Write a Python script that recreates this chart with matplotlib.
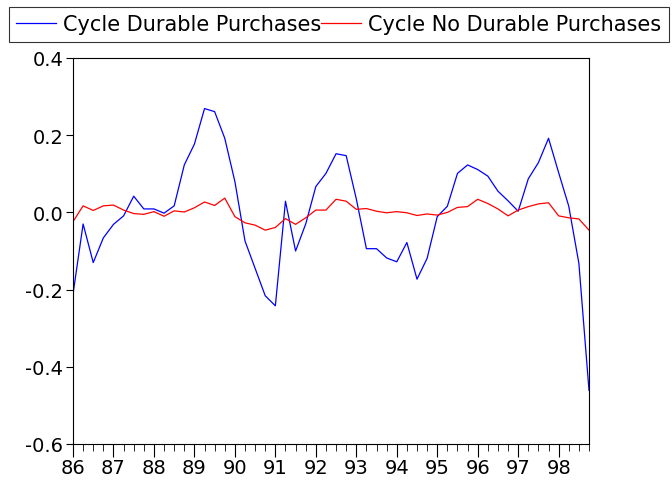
import matplotlib
matplotlib.use('Agg')
import matplotlib.pyplot as plt
import numpy as np

plt.rcParams['font.family'] = ['DejaVu Sans']

# kvartalsdata 1986Q1 - 1998Q4
durable = [-0.212, -0.030, -0.130, -0.066, -0.031, -0.009, 0.042, 0.009,
           0.009, -0.002, 0.017, 0.123, 0.177, 0.269, 0.261, 0.192,
           0.080, -0.074, -0.145, -0.216, -0.242, 0.029, -0.100, -0.030,
           0.067, 0.101, 0.152, 0.147, 0.035, -0.094, -0.094, -0.118,
           -0.128, -0.078, -0.173, -0.119, -0.011, 0.016, 0.101, 0.123,
           0.111, 0.094, 0.055, 0.030, 0.003, 0.087, 0.129, 0.192,
           0.103, 0.016, -0.132, -0.461]
no_durable = [-0.024, 0.017, 0.005, 0.017, 0.019, 0.006, -0.003, -0.005,
              0.002, -0.010, 0.004, 0.001, 0.012, 0.027, 0.018, 0.037,
              -0.011, -0.027, -0.033, -0.046, -0.039, -0.016, -0.031, -0.014,
              0.006, 0.006, 0.034, 0.029, 0.008, 0.010, 0.003, -0.001,
              0.002, -0.001, -0.008, -0.004, -0.007, 0.000, 0.013, 0.015,
              0.034, 0.023, 0.009, -0.009, 0.006, 0.015, 0.022, 0.025,
              -0.009, -0.014, -0.017, -0.046]
years = list(range(86, 99))
year_labels = [str(y) for y in years]

x = 86 + np.arange(len(durable)) / 4

fig = plt.figure(figsize=(6.72, 4.81), dpi=100)
ax = fig.add_axes([73 / 672, 36 / 481, 516 / 672, 386 / 481])
l1, = ax.plot(x, durable, color='#0000ff', lw=0.9, label='Cycle Durable Purchases')
l2, = ax.plot(x, no_durable, color='#ff0000', lw=0.9, label='Cycle No Durable Purchases')

ax.set_xlim(86, x[-1])
ax.set_ylim(-0.6, 0.4)
ax.set_yticks([-0.6, -0.4, -0.2, 0.0, 0.2, 0.4])
ax.set_yticklabels(['-0.6', '-0.4', '-0.2', '0.0', '0.2', '0.4'])
ax.set_xticks(years)
ax.set_xticklabels(year_labels)
ax.set_xticks(x, minor=True)
ax.tick_params(axis='both', direction='out', labelsize=14, width=0.8)
ax.tick_params(axis='x', which='major', length=9, pad=1)
ax.tick_params(axis='x', which='minor', length=5)
ax.tick_params(axis='y', length=5, pad=2)
for s in ax.spines.values():
    s.set_linewidth(0.8)

leg = fig.legend(handles=[l1, l2], loc='upper left', bbox_to_anchor=(9 / 672, 1 - 8 / 481),
                 ncol=2, fontsize=15, frameon=True, fancybox=False, columnspacing=0,
                 handlelength=1.9, handletextpad=0.35, borderpad=0.35, borderaxespad=0)
leg.get_frame().set_edgecolor('black')
leg.get_frame().set_linewidth(0.8)

plt.savefig('out.png', dpi=100)
